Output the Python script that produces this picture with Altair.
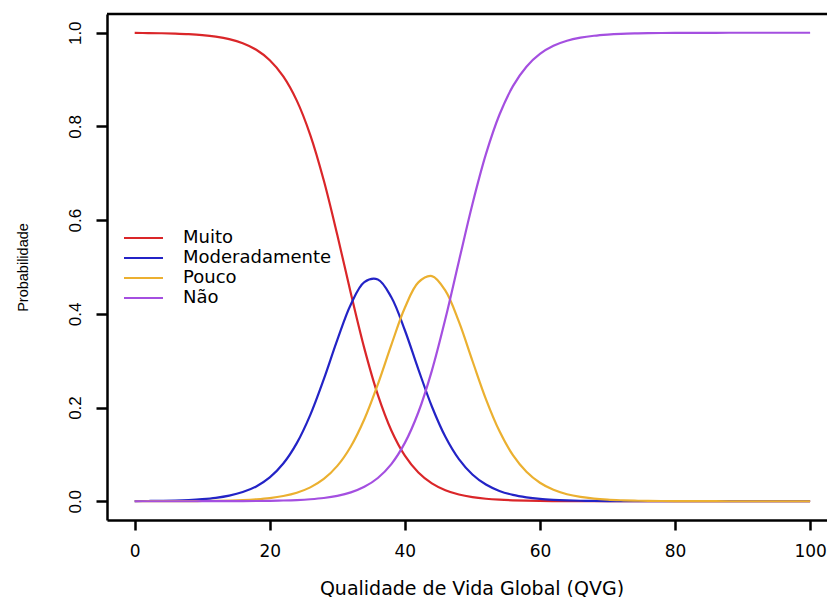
import altair as alt
import pandas as pd

# Values
qvg = list(range(0, 101, 2))

muito = [0.9996, 0.9993, 0.9989, 0.9981, 0.9969, 0.9949, 0.9916, 0.9863, 0.9776, 0.9636,
         0.9413, 0.9068, 0.8551, 0.7816, 0.6846, 0.5683, 0.4440, 0.3263, 0.2271, 0.1512,
         0.0975, 0.0615, 0.0382, 0.0236, 0.0144, 0.0088, 0.0054, 0.0033, 0.0020, 0.0012,
         0.0007, 0.0004, 0.0003, 0.0002, 0.0001, 0.0001, 0.0, 0.0, 0.0, 0.0,
         0.0, 0.0, 0.0, 0.0, 0.0, 0.0, 0.0, 0.0, 0.0, 0.0, 0.0]

moderadamente = [0.0004, 0.0006, 0.0010, 0.0016, 0.0027, 0.0045, 0.0073, 0.0120, 0.0196, 0.0317,
                 0.0509, 0.0805, 0.1241, 0.1845, 0.2607, 0.3446, 0.4201, 0.4678, 0.4735, 0.4354,
                 0.3650, 0.2815, 0.2023, 0.1376, 0.0899, 0.0572, 0.0357, 0.0221, 0.0135, 0.0083,
                 0.0050, 0.0031, 0.0019, 0.0011, 0.0007, 0.0004, 0.0003, 0.0002, 0.0001, 0.0001,
                 0.0, 0.0, 0.0, 0.0, 0.0, 0.0, 0.0, 0.0, 0.0, 0.0, 0.0]

pouco = [0.0, 0.0001, 0.0001, 0.0002, 0.0003, 0.0006, 0.0009, 0.0015, 0.0025, 0.0042,
         0.0068, 0.0112, 0.0182, 0.0296, 0.0476, 0.0755, 0.1170, 0.1751, 0.2497, 0.3339,
         0.4129, 0.4671, 0.4806, 0.4495, 0.3832, 0.2999, 0.2181, 0.1498, 0.0985, 0.0630,
         0.0395, 0.0244, 0.0150, 0.0092, 0.0056, 0.0034, 0.0021, 0.0012, 0.0008, 0.0005,
         0.0003, 0.0002, 0.0001, 0.0001, 0.0, 0.0, 0.0, 0.0, 0.0, 0.0, 0.0]

nao = [0.0, 0.0, 0.0, 0.0, 0.0, 0.0001, 0.0001, 0.0002, 0.0004, 0.0006,
       0.0010, 0.0016, 0.0026, 0.0043, 0.0070, 0.0115, 0.0189, 0.0308, 0.0497, 0.0794,
       0.1246, 0.1900, 0.2789, 0.3894, 0.5125, 0.6341, 0.7408, 0.8249, 0.8860, 0.9276,
       0.9548, 0.9721, 0.9829, 0.9895, 0.9936, 0.9961, 0.9977, 0.9986, 0.9991, 0.9995,
       0.9997, 0.9998, 0.9999, 0.9999, 1.0, 1.0, 1.0, 1.0, 1.0, 1.0, 1.0]

series_names = ["Muito", "Moderadamente", "Pouco", "Não"]
series_colors = ["#da2629", "#2323c6", "#ebb030", "#a44fe0"]
x_ticks = [0, 20, 40, 60, 80, 100]
y_ticks = [0.0, 0.2, 0.4, 0.6, 0.8, 1.0]

rows = []
for name, vals in zip(series_names, [muito, moderadamente, pouco, nao]):
    for xv, pv in zip(qvg, vals):
        rows.append({"QVG": xv, "Prob": pv, "Serie": name})
df = pd.DataFrame(rows)

W, H = 720, 506

x_enc = alt.X(
    "QVG:Q",
    scale=alt.Scale(domain=[-4.1, 102.5], nice=False, zero=False),
    axis=alt.Axis(
        values=x_ticks, grid=False, format="d",
        domainColor="black", domainWidth=2.5,
        tickColor="black", tickWidth=2.5, tickSize=10,
        labelFont="DejaVu Sans", labelFontSize=17, labelColor="black",
        labelPadding=13, labelFlush=False, labelOverlap=False,
        title="Qualidade de Vida Global (QVG)",
        titleFont="DejaVu Sans", titleFontSize=19, titleFontWeight="normal",
        titleColor="black", titleY=74, titleX=364.5,
        titleAlign="center", titleBaseline="alphabetic",
    ),
)

y_enc = alt.Y(
    "Prob:Q",
    scale=alt.Scale(domain=[-0.04, 1.04], nice=False, zero=False),
    axis=alt.Axis(
        values=y_ticks, grid=False, format=".1f",
        domainColor="black", domainWidth=2.5,
        tickColor="black", tickWidth=2.5, tickSize=11,
        labelFont="Liberation Sans", labelFontSize=17, labelColor="black",
        labelAngle=270, labelAlign="center", labelBaseline="alphabetic",
        labelPadding=16, labelOverlap=False,
        title="Probabilidade",
        titleFont="Liberation Sans", titleFontSize=14.5, titleFontWeight="normal",
        titleColor="black", titleAngle=270, titleX=-80, titleY=253,
        titleAlign="center", titleBaseline="alphabetic",
    ),
)

color_enc = alt.Color(
    "Serie:N",
    scale=alt.Scale(domain=series_names, range=series_colors),
    legend=alt.Legend(
        title=None, orient="none", legendX=25.5, legendY=213,
        symbolType="M-2,0H2", symbolSize=380, symbolStrokeWidth=2.2,
        labelFont="DejaVu Sans", labelFontSize=18, labelColor="black",
        labelOffset=28.5, rowPadding=-1, padding=0,
    ),
)

base = alt.Chart(df)
layers = []
for name in series_names:
    layers.append(
        base.transform_filter(alt.datum.Serie == name)
        .mark_line(strokeWidth=2.2, interpolate="catmull-rom")
        .encode(x=x_enc, y=y_enc, color=color_enc)
    )

top_rule = alt.Chart(pd.DataFrame({"a": [0]})).mark_rule(color="black", strokeWidth=2.5).encode(
    x=alt.value(0), x2=alt.value(W), y=alt.value(0)
)

chart = alt.layer(*layers, top_rule).properties(
    width=W, height=H,
    padding={"left": 107, "top": 14, "right": 0, "bottom": 77},
    autosize=alt.AutoSizeParams(type="none"),
    background="white",
).configure_view(stroke="transparent")

chart.save("out.html", embed_options={"renderer": "svg", "actions": False})
